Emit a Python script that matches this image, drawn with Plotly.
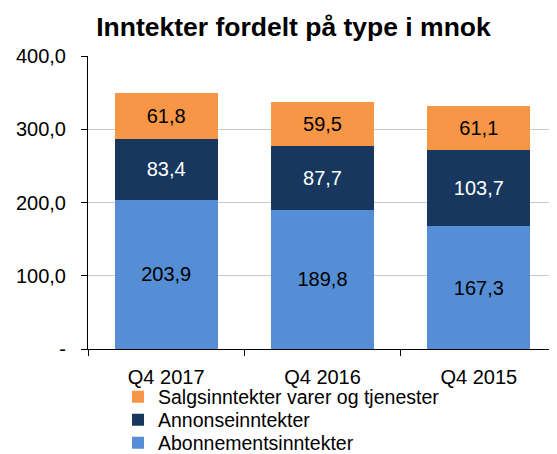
import plotly.graph_objects as go

categories = ["Q4 2017", "Q4 2016", "Q4 2015"]
abonnement = [203.9, 189.8, 167.3]
annonse = [83.4, 87.7, 103.7]
salg = [61.8, 59.5, 61.1]
series_names = ["Abonnementsinntekter", "Annonseinntekter", "Salgsinntekter varer og tjenester"]
ytick_vals = [0, 100, 200, 300, 400]
ytick_text = ["-", "100,0", "200,0", "300,0", "400,0"]

def fmt(vals):
    return [f"{v:.1f}".replace(".", ",") for v in vals]

FONT = "Liberation Sans, Arial, sans-serif"
colors = ["#558ED5", "#17375E", "#F79646"]
text_colors = ["#000000", "#FFFFFF", "#000000"]
legend_ids = ["legend3", "legend2", "legend"]
legend_y = [-0.3208, -0.2423, -0.1638]

fig = go.Figure()
for name, vals, c, tc, lid in zip(series_names, [abonnement, annonse, salg], colors, text_colors, legend_ids):
    fig.add_trace(go.Bar(
        x=categories, y=vals, name=name, marker=dict(color=c, line=dict(width=0)),
        text=fmt(vals), textposition="inside", insidetextanchor="middle",
        textfont=dict(color=tc, size=20, family=FONT),
        hoverinfo="skip", legend=lid,
    ))

legend_common = dict(orientation="v", x=0.064, xanchor="left", yanchor="middle",
                     font=dict(size=19.5), itemsizing="constant",
                     bgcolor="rgba(0,0,0,0)", borderwidth=0)

fig.update_layout(
    barmode="stack",
    bargap=0.34,
    width=549, height=446,
    margin=dict(l=80, r=0, t=48, b=105, autoexpand=False),
    paper_bgcolor="white", plot_bgcolor="white",
    font=dict(family=FONT, size=20, color="#000000"),
    title=dict(text="<b>Inntekter fordelt på type i mnok</b>", x=0.52, xanchor="center",
               y=0.957, yanchor="middle", font=dict(size=26.5, color="#000000")),
    showlegend=True,
    legend=dict(y=legend_y[2], **legend_common),
    legend2=dict(y=legend_y[1], **legend_common),
    legend3=dict(y=legend_y[0], **legend_common),
    uniformtext=dict(mode=False),
)
fig.update_xaxes(
    showline=True, linecolor="#000000", linewidth=1,
    ticks="outside", ticklen=6, tickcolor="#000000", tickson="boundaries",
    showgrid=False, tickfont=dict(size=20), automargin=False, ticklabelstandoff=10,
)
fig.update_yaxes(
    range=[0, 400], tickvals=ytick_vals, ticktext=ytick_text,
    showline=True, linecolor="#000000", linewidth=1,
    ticks="outside", ticklen=6, tickcolor="#000000",
    showgrid=True, gridcolor="#C8C8C8", gridwidth=1,
    zeroline=False, tickfont=dict(size=20), ticklabelstandoff=11, automargin=False,
)

fig.write_html("out.html")
